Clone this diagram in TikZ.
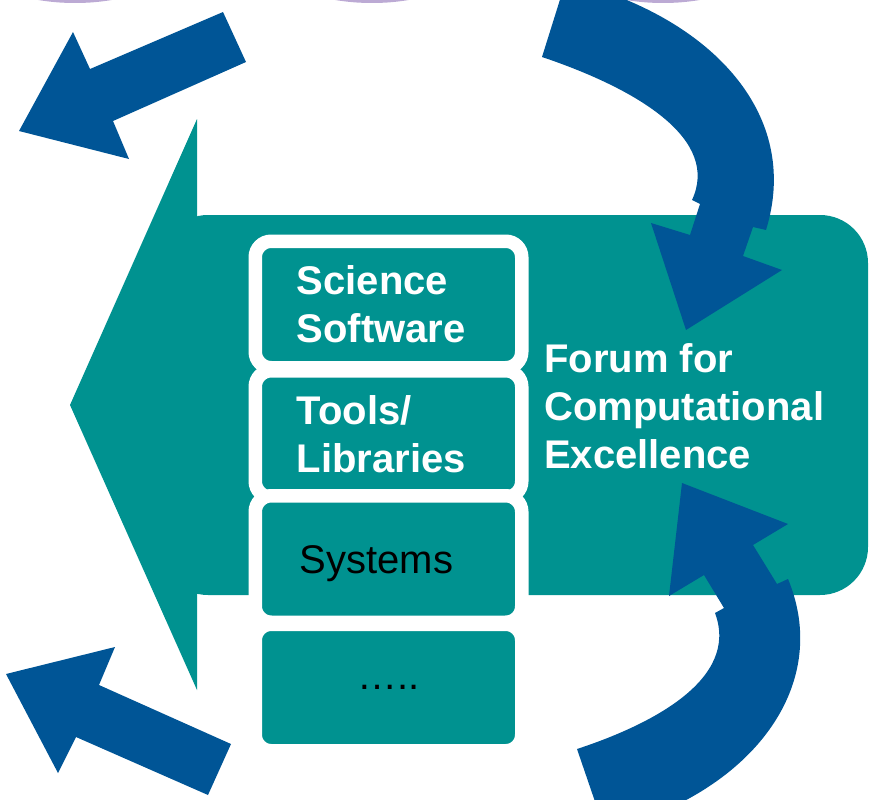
\documentclass[tikz,border=0pt]{standalone}
\usepackage{fontspec}
\setmainfont{Liberation Sans}

\definecolor{fceteal}{RGB}{0,146,144}
\definecolor{fceblue}{RGB}{0,85,150}
\definecolor{fcelav}{RGB}{188,170,212}

\tikzset{
  layer/.style={draw=white, line width=13.5pt, fill=fceteal, rounded corners=16pt,
    minimum width=266.5pt, minimum height=126.5pt, inner xsep=41.5pt,
    text width=183.5pt, align=left},
  boldtxt/.style={text=white, font=\fontsize{40}{48}\selectfont\bfseries},
  plaintxt/.style={text=black, font=\fontsize{40}{48}\selectfont},
}

\begin{document}
\begin{tikzpicture}[x=1pt,y=-1pt]
  \useasboundingbox (0,0) rectangle (875,800);
  \clip (0,0) rectangle (875,800);

  % ellipses cut off at the top
  \fill[fcelav] (75,-40) ellipse [x radius=100pt, y radius=43pt];
  \fill[fcelav] (372,-40) ellipse [x radius=100pt, y radius=43pt];
  \fill[fcelav] (663,-40) ellipse [x radius=100pt, y radius=43pt];

  % big teal arrow
  \fill[fceteal] (197,119) -- (70,405) -- (197,690) -- cycle;
  \fill[fceteal, rounded corners=48pt] (160,215) rectangle (868,595);

  % stack of layers
  \node[layer, boldtxt] (sci) at (388.5,304.5) {Science\\Software};
  \node[layer, boldtxt] (tools) at (388.5,434) {Tools/\\Libraries};
  \node[layer, plaintxt, inner xsep=44.5pt, text width=177.5pt,
    text height=32pt, text depth=4pt] (sys) at (388.5,559) {Systems};
  \node[layer, plaintxt, align=center] (more) at (388.5,687.5) {\ldots..};

  \node[boldtxt, anchor=west, align=left, inner sep=0pt] (fce) at (544,406)
    {Forum for\\Computational\\Excellence};

  % blue arrows
  \fill[fceblue] (223,12) -- (246,62) -- (113,121) -- (129,159) -- (19,131)
    -- (73,32) -- (90,69) -- cycle;
  \fill[fceblue] (6,674) -- (115,647) -- (99,685) -- (231,744) -- (208,795)
    -- (76,737) -- (58,773) -- cycle;
  \fill[fceblue] (542,57) .. controls (640,90) and (720,140) .. (692,200)
    -- (700,204) -- (690,235) -- (651,223) -- (686,330) -- (782,270)
    -- (743,256) -- (753,227) -- (766,230)
    .. controls (800,120) and (720,30) .. (600,-10) -- (563,-10) -- cycle;
  \fill[fceblue] (577,749) .. controls (650,725) and (740,680) .. (715,613)
    -- (724,608) -- (704,575) -- (669,596) -- (682,483) -- (788,524)
    -- (753,545) -- (777,584) -- (788,579)
    .. controls (830,680) and (760,780) .. (635,822) -- (602,822) -- cycle;
\end{tikzpicture}
\end{document}
